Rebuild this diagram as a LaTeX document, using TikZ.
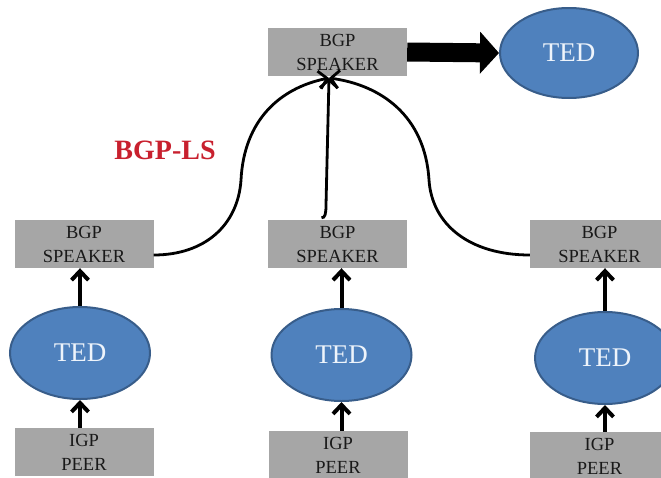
\documentclass[tikz,border=0pt]{standalone}
\usepackage{fontspec}
\setmainfont{Liberation Serif}
\usetikzlibrary{arrows.meta,shapes.geometric,calc}
\definecolor{boxgray}{RGB}{166,166,166}
\definecolor{tedfill}{RGB}{79,129,189}
\definecolor{tededge}{RGB}{56,93,138}
\definecolor{tedtext}{RGB}{238,244,251}
\definecolor{lsred}{RGB}{200,32,46}
\definecolor{boxtext}{RGB}{25,25,25}
\begin{document}
\begin{tikzpicture}[x=1pt,y=-1pt,
  greybox/.style={fill=boxgray, minimum width=139pt, minimum height=48pt,
    inner sep=0pt, align=center, text=boxtext,
    font=\fontsize{18.5}{24}\selectfont},
  tedell/.style={ellipse, fill=tedfill, draw=tededge, line width=2pt,
    minimum width=140pt, minimum height=92pt, inner sep=0pt,
    text=tedtext, font=\fontsize{27}{30}\selectfont},
  feed/.style={line width=4pt, -{Straight Barb[length=9pt,width=17pt]}},
  lslink/.style={line width=2.8pt, -{Straight Barb[length=8pt,width=18pt]}},
  export/.style={line width=19pt, -{Triangle[length=19pt,width=41pt]}},
]
\useasboundingbox (0,0) rectangle (661,477);
\clip (0,0) rectangle (661,477);

% central speaker and its traffic-engineering database
\node[greybox] (spTop) at (337.5,52) {BGP\\SPEAKER};
\node[tedell, minimum width=138pt, minimum height=90pt] (tedTop) at (569,53) {TED};

% per-domain speakers
\node[greybox] (spL) at (84,244)  {BGP\\SPEAKER};
\node[greybox] (spM) at (337.5,244) {BGP\\SPEAKER};
\node[greybox] (spR) at (599.5,244) {BGP\\SPEAKER};

% per-domain databases
\node[tedell] (tedL) at (80,353)  {TED};
\node[tedell] (tedM) at (341.5,355) {TED};
\node[tedell] (tedR) at (605,358) {TED};

% IGP peers
\node[greybox] (igpL) at (84,452)   {IGP\\PEER};
\node[greybox] (igpM) at (338,455)  {IGP\\PEER};
\node[greybox] (igpR) at (599.5,456) {IGP\\PEER};

% protocol label
\node[font=\bfseries\fontsize{28}{30}\selectfont, text=lsred] (ls) at (165,150) {BGP-LS};

% IGP -> TED -> speaker feeds
\foreach \c in {L,M,R}{
  \draw[feed] (igp\c.north -| ted\c.south) -- (ted\c.south);
  \draw[feed] (ted\c.north) -- (ted\c.north |- sp\c.south);
}

% BGP-LS sessions converging on the central speaker
\coordinate (hub) at (329,78);
\draw[lslink] ([yshift=-11pt]spL.east) .. controls (205,255) and (238,225) .. (241,180)
  .. controls (244,120) and (280,88) .. (hub);
\draw[lslink] ([yshift=-11pt]spR.west) .. controls (470,255) and (432,225) .. (429,180)
  .. controls (425,115) and (380,85) .. (hub);
\draw[lslink] ([xshift=-16pt,yshift=2pt]spM.north) .. controls (325,218) and (326,214) .. (326,205)
  -- (hub);

% export of the collected topology
\draw[export] (spTop.east) -- (tedTop.west);
\end{tikzpicture}
\end{document}
